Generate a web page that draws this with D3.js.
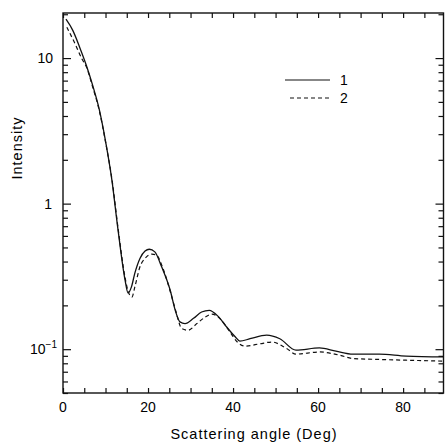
<!DOCTYPE html>
<html>
<head>
<meta charset="utf-8">
<script src="https://cdn.jsdelivr.net/npm/d3@7"></script>
<style>
body { margin: 0; background: #fff; }
text { font-family: "Liberation Sans", Arial, sans-serif; fill: #000; }
.tick-label { font-size: 14px; }
.axis-title { font-size: 14.5px; letter-spacing: 1px; }
</style>
</head>
<body>
<div id="chart"></div>
<script>
// curva 1 (continua)
const angleSolid = [0.7, 2.3, 4.0, 5.5, 7.0, 8.5, 10.0, 11.5, 12.9, 14.6, 15.3, 16.1, 16.9, 18.1, 19.3, 20.3, 21.6, 23.2, 25.2, 26.4, 27.5, 28.7, 30.7, 32.6, 34.4, 36.5, 38.5, 40.5, 41.6, 44, 47.9, 51, 54.8, 60.3, 64.2, 68.2, 74.4, 80.7, 89.6]
const intensitySolid = [18.5, 15.5, 11.7, 8.9, 6.46, 4.47, 2.69, 1.45, 0.676, 0.298, 0.243, 0.268, 0.333, 0.42, 0.472, 0.486, 0.466, 0.368, 0.255, 0.185, 0.154, 0.150, 0.163, 0.18, 0.185, 0.168, 0.142, 0.1217, 0.1135, 0.118, 0.125, 0.118, 0.0985, 0.102, 0.097, 0.0925, 0.0925, 0.0896, 0.0885]

// curva 2 (discontinua)
const angleDashed = [0.9, 2.8, 4.5, 5.5, 7.0, 8.5, 10.0, 11.6, 13.0, 14.6, 15.2, 16.2, 16.9, 18.1, 19.3, 20.9, 22, 23.5, 25.3, 26.6, 27.9, 29.4, 31.5, 33.3, 35, 37.3, 39.3, 41, 42.8, 46.4, 49.1, 52.6, 54.8, 60.3, 65, 68.2, 74.4, 80.7, 89.6]
const intensityDashed = [16.3, 12.6, 9.8, 8.7, 6.3, 4.4, 2.66, 1.41, 0.66, 0.31, 0.257, 0.228, 0.268, 0.368, 0.42, 0.45, 0.443, 0.36, 0.245, 0.18, 0.139, 0.135, 0.150, 0.165, 0.174, 0.158, 0.131, 0.112, 0.105, 0.109, 0.112, 0.101, 0.0925, 0.0957, 0.091, 0.0863, 0.085, 0.084, 0.0828]

// ticks
const xTicks = d3.range(0, 90, 5)
const xTickLabels = [0, 20, 40, 60, 80]
const yMajor = [0.1, 1, 10]
const legendLabels = ["1", "2"]

const width = 446
const height = 442
const margin = { top: 13, bottom: 49, left: 63, right: 2.5 }
const innerW = width - margin.left - margin.right
const innerH = height - margin.top - margin.bottom

const svg = d3.select("#chart")
    .append("svg")
    .attr("width", width)
    .attr("height", height)

const g = svg.append("g")
    .attr("transform", `translate(${margin.left}, ${margin.top})`)

const x = d3.scaleLinear().domain([0, 89.5]).range([0, innerW])
const y = d3.scaleLog().domain([0.05, 20.4]).range([innerH, 0])

// ejes con ticks hacia dentro
const xAxisBottom = d3.axisBottom(x).tickValues(xTicks).tickSize(-5).tickFormat("")
const xAxisTop = d3.axisTop(x).tickValues(xTicks).tickSize(-5).tickFormat("")

g.append("g").attr("transform", `translate(0, ${innerH})`).call(xAxisBottom)
g.append("g").call(xAxisTop)

// ticks menores del eje log
const yMinor = y.ticks().filter(v => !yMajor.some(m => Math.abs(m - v) < 1e-9))
const yAxisLeft = d3.axisLeft(y).tickValues(yMinor).tickSize(-5).tickFormat("")
const yAxisRight = d3.axisRight(y).tickValues(yMinor).tickSize(-5).tickFormat("")
const yMajLeft = d3.axisLeft(y).tickValues(yMajor).tickSize(-8).tickFormat("")
const yMajRight = d3.axisRight(y).tickValues(yMajor).tickSize(-8).tickFormat("")

g.append("g").call(yAxisLeft)
g.append("g").call(yMajLeft)
g.append("g").attr("transform", `translate(${innerW}, 0)`).call(yAxisRight)
g.append("g").attr("transform", `translate(${innerW}, 0)`).call(yMajRight)

g.selectAll(".domain").remove()
g.selectAll(".tick line").attr("stroke", "#111").attr("stroke-width", 1.2)

// marco
g.append("rect")
    .attr("width", innerW)
    .attr("height", innerH)
    .attr("fill", "none")
    .attr("stroke", "#111")
    .attr("stroke-width", 1.4)

// etiquetas x
g.selectAll(".xlab")
    .data(xTickLabels)
    .enter()
    .append("text")
    .attr("class", "tick-label")
    .attr("x", d => x(d))
    .attr("y", innerH + 19)
    .attr("text-anchor", "middle")
    .text(d => d)

// etiquetas y
const yLab = g.append("g").attr("class", "tick-label").attr("text-anchor", "end")
yLab.append("text").attr("x", -10).attr("y", y(10) + 5).text("10")
yLab.append("text").attr("x", -11).attr("y", y(1) + 5).text("1")
const t = yLab.append("text").attr("x", -6).attr("y", y(0.1) + 5)
t.append("tspan").text("10")
t.append("tspan").attr("dy", -6).style("font-size", "10px").text("\u22121")

// títulos
svg.append("text")
    .attr("class", "axis-title")
    .attr("x", 254)
    .attr("y", 439)
    .attr("text-anchor", "middle")
    .text("Scattering angle (Deg)")

svg.append("text")
    .attr("class", "axis-title")
    .attr("transform", "translate(22, 148) rotate(-90)")
    .attr("text-anchor", "middle")
    .text("Intensity")

// curvas
const line = d3.line()
    .x(d => x(d[0]))
    .y(d => y(d[1]))
    .curve(d3.curveMonotoneX)

g.append("path")
    .datum(d3.zip(angleSolid, intensitySolid))
    .attr("fill", "none")
    .attr("stroke", "#111")
    .attr("stroke-width", 1.3)
    .attr("d", line)

g.append("path")
    .datum(d3.zip(angleDashed, intensityDashed))
    .attr("fill", "none")
    .attr("stroke", "#111")
    .attr("stroke-width", 1.2)
    .attr("stroke-dasharray", "4,3")
    .attr("d", line)

// leyenda
const legend = svg.append("g")
legend.selectAll("line")
    .data(legendLabels)
    .enter()
    .append("line")
    .attr("x1", (d, i) => i ? 290 : 285)
    .attr("x2", 330)
    .attr("y1", (d, i) => 80 + i * 18)
    .attr("y2", (d, i) => 80 + i * 18)
    .attr("stroke", "#111")
    .attr("stroke-width", 1.2)
    .attr("stroke-dasharray", (d, i) => i ? "4,3" : null)
legend.selectAll("text")
    .data(legendLabels)
    .enter()
    .append("text")
    .attr("class", "tick-label")
    .attr("x", 340)
    .attr("y", (d, i) => 85 + i * 18)
    .text(d => d)
</script>
</body>
</html>
